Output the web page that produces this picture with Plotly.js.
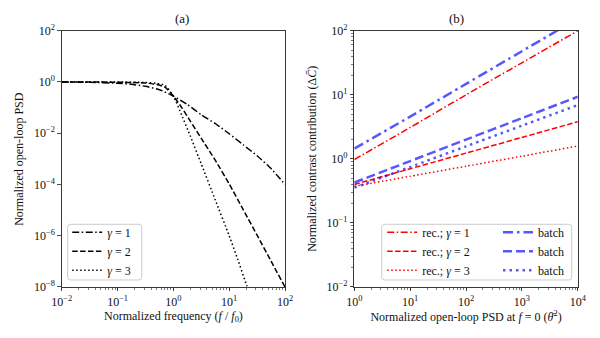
<!DOCTYPE html>
<html>
<head>
<meta charset="utf-8">
<script src="https://cdn.plot.ly/plotly-3.0.1.min.js"></script>
<style>
  html, body { margin: 0; padding: 0; background: #fff; }
  #chart { width: 600px; height: 338px; }
</style>
</head>
<body>
<div id="chart"></div>
<script>
// (a) normalized open-loop PSD
const freqG1 = [0.01, 0.0316, 0.1, 0.178, 0.316, 0.562, 1, 1.78, 3.16, 5.62, 10, 17.8, 31.6, 56.2, 100]
const psdG1 = [1, 0.977, 0.891, 0.813, 0.676, 0.501, 0.282, 0.132, 0.0525, 0.024, 0.00955, 0.00355, 0.00132, 0.000417, 0.0001]

const freqG2 = [0.01, 0.0316, 0.1, 0.316, 0.501, 0.708, 1, 1.41, 2.0, 3.16, 5.62, 10, 17.8, 31.6, 56.2, 100]
const psdG2 = [1, 1, 0.977, 0.912, 0.794, 0.631, 0.282, 0.1, 0.0302, 0.00631, 8.91e-4, 1.05e-4, 1.05e-5, 1.05e-6, 1.02e-7, 1e-8]

const freqG3 = [0.01, 0.0316, 0.1, 0.316, 0.501, 0.708, 1, 1.41, 2.0, 3.16, 5.62, 10, 14.1, 20.7, 25.1]
const psdG3 = [1, 1, 1, 0.955, 0.891, 0.741, 0.282, 0.0501, 0.00794, 6.31e-4, 2.51e-5, 1e-6, 1.26e-7, 1.12e-8, 3.7e-9]

// (b) normalized contrast contribution vs PSD at f = 0
const psdZero = [1, 10, 100, 1000, 10000]
const recG1 = [0.977, 3.09, 10, 31.6, 100]
const recG2 = [0.398, 0.700, 1.23, 2.16, 3.80]
const recG3 = [0.372, 0.535, 0.767, 1.10, 1.585]
const batchG1 = [1.445, 4.57, 14.8, 47.9, 155]
const batchG2 = [0.427, 0.923, 2.0, 4.32, 9.33]
const batchG3 = [0.355, 0.745, 1.57, 3.30, 6.92]

const gammaLabels = ["<i>γ</i> = 1", "<i>γ</i> = 2", "<i>γ</i> = 3"]

const tickValsA_x = [0.01, 0.1, 1, 10, 100]
const tickTextA_x = ["10<sup>−2</sup>", "10<sup>−1</sup>", "10<sup>0</sup>", "10<sup>1</sup>", "10<sup>2</sup>"]
const tickValsA_y = [1e-8, 1e-6, 1e-4, 1e-2, 1, 100]
const tickTextA_y = ["10<sup>−8</sup>", "10<sup>−6</sup>", "10<sup>−4</sup>", "10<sup>−2</sup>", "10<sup>0</sup>", "10<sup>2</sup>"]
const tickValsB_x = [1, 10, 100, 1000, 10000]
const tickTextB_x = ["10<sup>0</sup>", "10<sup>1</sup>", "10<sup>2</sup>", "10<sup>3</sup>", "10<sup>4</sup>"]
const tickValsB_y = [0.01, 0.1, 1, 10, 100]
const tickTextB_y = ["10<sup>−2</sup>", "10<sup>−1</sup>", "10<sup>0</sup>", "10<sup>1</sup>", "10<sup>2</sup>"]

const FONT = "'Liberation Serif', 'DejaVu Serif', serif"
const RED = "#ff0000"
const BLUE = "rgba(0,0,255,0.66)"

const dashDot = "7px,2.5px,1.5px,2.5px"
const dashed = "5.5px,2.4px"
const dotted = "1.5px,2.5px"
const dashDotWide = "10px,4px,2.5px,4px"
const dashedWide = "9px,4px"
const dottedWide = "2.5px,4px"

function curve(x, y, name, color, width, dash, xaxis, yaxis, legend) {
    return {
        x: x, y: y, name: name, mode: "lines", type: "scatter",
        line: { color: color, width: width, dash: dash, shape: "spline", smoothing: 0.5 },
        xaxis: xaxis, yaxis: yaxis, legend: legend, hoverinfo: "skip"
    }
}

const traces = [
    curve(freqG1, psdG1, gammaLabels[0], "#000", 1.5, dashDot, "x", "y", "legend"),
    curve(freqG2, psdG2, gammaLabels[1], "#000", 1.5, dashed, "x", "y", "legend"),
    curve(freqG3, psdG3, gammaLabels[2], "#000", 1.5, dotted, "x", "y", "legend"),
    curve(psdZero, recG1, "rec.; " + gammaLabels[0], RED, 1.5, dashDot, "x2", "y2", "legend2"),
    curve(psdZero, recG2, "rec.; " + gammaLabels[1], RED, 1.5, dashed, "x2", "y2", "legend2"),
    curve(psdZero, recG3, "rec.; " + gammaLabels[2], RED, 1.5, dotted, "x2", "y2", "legend2"),
    curve(psdZero, batchG1, "batch", BLUE, 2.5, dashDotWide, "x2", "y2", "legend3"),
    curve(psdZero, batchG2, "batch", BLUE, 2.5, dashedWide, "x2", "y2", "legend3"),
    curve(psdZero, batchG3, "batch", BLUE, 2.5, dottedWide, "x2", "y2", "legend3")
]

function logAxis(domain, range, vals, text, title, anchor, minor) {
    const ax = {
        type: "log", domain: domain, range: range, anchor: anchor,
        tickmode: "array", tickvals: vals, ticktext: text,
        ticks: "outside", ticklen: 3.5, tickwidth: 0.8, tickcolor: "#222",
        showline: true, linecolor: "#222", linewidth: 0.9, mirror: true,
        showgrid: false, zeroline: false,
        tickfont: { family: FONT, size: 12, color: "#111" },
        title: { text: title, font: { family: FONT, size: 12, color: "#111" }, standoff: 3 }
    }
    if (minor) ax.minor = { ticks: "outside", ticklen: 2, tickwidth: 0.6, tickcolor: "#222", dtick: "D1", showgrid: false }
    return ax
}

function roundBox(x0, y0, x1, y1) {
    // pixel corners -> paper path with small rounded corners
    const W = 600, H = 338, r = 3
    const px = v => (v / W).toFixed(4)
    const py = v => (1 - v / H).toFixed(4)
    const d = "M" + px(x0 + r) + "," + py(y0) +
        " L" + px(x1 - r) + "," + py(y0) + " Q" + px(x1) + "," + py(y0) + " " + px(x1) + "," + py(y0 + r) +
        " L" + px(x1) + "," + py(y1 - r) + " Q" + px(x1) + "," + py(y1) + " " + px(x1 - r) + "," + py(y1) +
        " L" + px(x0 + r) + "," + py(y1) + " Q" + px(x0) + "," + py(y1) + " " + px(x0) + "," + py(y1 - r) +
        " L" + px(x0) + "," + py(y0 + r) + " Q" + px(x0) + "," + py(y0) + " " + px(x0 + r) + "," + py(y0) + " Z"
    return { type: "path", xref: "paper", yref: "paper", path: d, line: { color: "#cccccc", width: 1 }, fillcolor: "rgba(255,255,255,0.8)", layer: "above" }
}

const legendStyle = {
    bgcolor: "rgba(0,0,0,0)", borderwidth: 0, xanchor: "left", yanchor: "top",
    font: { family: FONT, size: 12, color: "#111" }, itemwidth: 30, tracegroupgap: 0
}

const layout = {
    width: 600, height: 338,
    margin: { l: 0, r: 0, t: 0, b: 0 },
    paper_bgcolor: "#fff", plot_bgcolor: "#fff",
    showlegend: true,
    xaxis: logAxis([0.103, 0.475], [-2, 2], tickValsA_x, tickTextA_x, "Normalized frequency (<i>f</i> / <i>f</i><sub>0</sub>)", "y", true),
    yaxis: logAxis([0.151, 0.909], [-8, 2], tickValsA_y, tickTextA_y, "", "x", false),
    xaxis2: logAxis([0.5905, 0.963], [0, 4], tickValsB_x, tickTextB_x, "Normalized open-loop PSD at <i>f</i> = 0 (<i>θ̄</i><sup>2</sup>)", "y2", true),
    yaxis2: logAxis([0.151, 0.909], [-2, 2], tickValsB_y, tickTextB_y, "", "x2", true),
    legend: Object.assign({ x: 0.112, y: 0.356 }, legendStyle),
    legend2: Object.assign({ x: 0.637, y: 0.356 }, legendStyle),
    legend3: Object.assign({ x: 0.830, y: 0.356 }, legendStyle),
    shapes: [roundBox(67.7, 224.3, 141.7, 280), roundBox(381.7, 224.3, 571.7, 280)],
    annotations: [
        { text: "(a)", xref: "paper", yref: "paper", x: 0.289, y: 0.944, yanchor: "middle", showarrow: false, font: { family: FONT, size: 13, color: "#111" } },
        { text: "(b)", xref: "paper", yref: "paper", x: 0.777, y: 0.944, yanchor: "middle", showarrow: false, font: { family: FONT, size: 13, color: "#111" } },
        { text: "Normalized open-loop PSD", xref: "paper", yref: "paper", x: 19 / 600, y: 0.53, xanchor: "center", yanchor: "middle", textangle: -90, showarrow: false, font: { family: FONT, size: 12, color: "#111" } },
        { text: "Normalized contrast contribution (Δ<i>C̄</i>)", xref: "paper", yref: "paper", x: 312 / 600, y: 0.53, xanchor: "center", yanchor: "middle", textangle: -90, showarrow: false, font: { family: FONT, size: 12, color: "#111" } }
    ]
}

Plotly.newPlot("chart", traces, layout, { displayModeBar: false, staticPlot: true })
</script>
</body>
</html>
